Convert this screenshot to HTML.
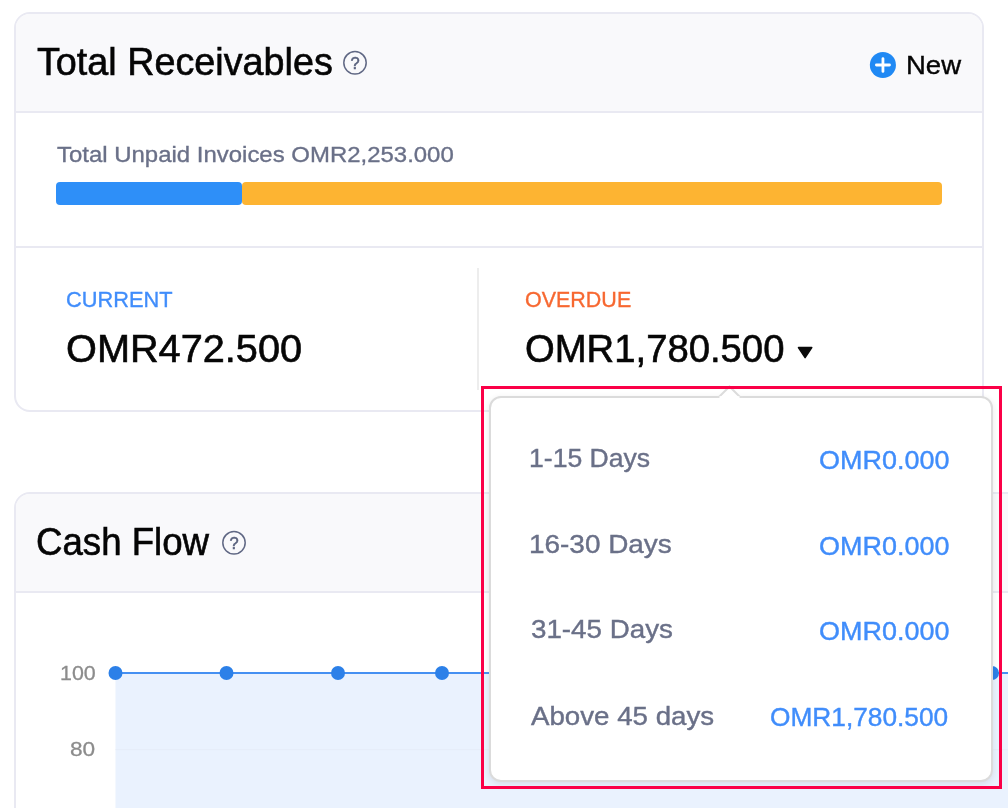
<!DOCTYPE html>
<html>
<head>
<meta charset="utf-8">
<title>Total Receivables</title>
<style>
*{box-sizing:border-box;margin:0;padding:0}
html,body{width:1008px;height:808px;overflow:hidden;background:#fff}
body{position:relative;font-family:"Liberation Sans",Arial,sans-serif;color:#000}
.abs{position:absolute;white-space:nowrap;line-height:1;transform-origin:0 0}
.card{position:absolute;border:2px solid #e9e9f2;border-radius:16px;background:#fff;overflow:hidden}
.head{position:absolute;left:0;top:0;right:0;background:#f9f9fb;border-bottom:2px solid #e9e9f2}
.title{font-size:38px;color:#050505;-webkit-text-stroke:0.6px #050505}
.sub{font-size:22.5px;color:#6a7088;-webkit-text-stroke:0.35px #6a7088}
.lbl{font-size:22.5px;-webkit-text-stroke:0.35px currentColor}
.amt{font-size:38px;color:#060606;-webkit-text-stroke:0.6px #060606}
.row{font-size:26px;color:#6a7088;-webkit-text-stroke:0.4px #6a7088}
.val{font-size:26px;color:#408dfb;-webkit-text-stroke:0.4px #408dfb}
.ytick{font-size:20px;color:#8c8c8c;-webkit-text-stroke:0.3px #8c8c8c}
</style>
</head>
<body>

<!-- Card 1: Total Receivables -->
<div class="card" id="card1" style="left:14px;top:12px;width:970px;height:400px">
  <div class="head" style="height:99px"></div>
  <div style="position:absolute;left:0;right:0;top:232px;height:2px;background:#e9e9f2"></div>
  <div style="position:absolute;left:461px;top:254px;width:2px;height:122px;background:#ededed"></div>
</div>

<div class="abs title" id="t1" style="left:37.0px;top:43px;transform:scaleX(0.9933);">Total Receivables</div>
<svg class="abs" style="left:342px;top:50px" width="26" height="26" viewBox="0 0 26 26">
  <circle cx="13" cy="12.800" r="11.200" fill="none" stroke="#606884" stroke-width="1.5"/>
  <text x="13.100" y="18.700" text-anchor="middle" font-family="Liberation Sans, sans-serif" font-size="16.500" fill="#5a627e" stroke="#5a627e" stroke-width="0.5">?</text>
</svg>

<svg class="abs" style="left:869px;top:51px" width="28" height="28" viewBox="0 0 28 28">
  <circle cx="13.900" cy="14" r="13.050" fill="#2089f4"/>
  <path d="M13.950 7.600v12.800M7.400 14h13.100" stroke="#fff" stroke-width="2.800" stroke-linecap="round" fill="none"/>
</svg>
<div class="abs" id="new" style="left:906.48px;top:52px;transform:scaleX(1.058);font-size:26px;color:#050505;-webkit-text-stroke:0.4px #050505">New</div>

<div class="abs sub" id="sub" style="left:57.0px;top:144px;transform:scaleX(1.0645);">Total Unpaid Invoices OMR2,253.000</div>
<div class="abs" style="left:56px;top:181.5px;width:185.700px;height:23px;background:#2e8ff8;border-radius:4px"></div>
<div class="abs" style="left:242px;top:181.5px;width:700px;height:23px;background:#fdb432;border-radius:4px"></div>

<div class="abs lbl" id="cur" style="left:66.03px;top:289px;transform:scaleX(0.9679);color:#408dfb">CURRENT</div>
<div class="abs amt" id="curamt" style="left:65.96px;top:330px;transform:scaleX(1.0446);">OMR472.500</div>

<div class="abs lbl" id="ovd" style="left:525.05px;top:289px;transform:scaleX(0.9545);color:#f76831">OVERDUE</div>
<div class="abs amt" id="ovdamt" style="left:524.99px;top:330px;transform:scaleX(1.0066);">OMR1,780.500</div>
<svg class="abs" style="left:797px;top:346px" width="17" height="14" viewBox="0 0 17 14">
  <path d="M1.450 1.600L14.750 1.600L8.100 11.700Z" fill="#0a0a0a" stroke="#0a0a0a" stroke-width="1.500" stroke-linejoin="round"/>
</svg>

<!-- Card 2: Cash Flow -->
<div class="card" id="card2" style="left:14px;top:492px;width:1100px;height:400px">
  <div class="head" style="height:99px"></div>
</div>
<div class="abs title" id="t2" style="left:36.14px;top:523px;transform:scaleX(0.9642);">Cash Flow</div>
<svg class="abs" style="left:221px;top:530px" width="26" height="26" viewBox="0 0 26 26">
  <circle cx="13" cy="12.800" r="11.200" fill="none" stroke="#606884" stroke-width="1.5"/>
  <text x="13.100" y="18.700" text-anchor="middle" font-family="Liberation Sans, sans-serif" font-size="16.500" fill="#5a627e" stroke="#5a627e" stroke-width="0.5">?</text>
</svg>

<div class="abs ytick" id="y100" style="left:59.68px;top:663px;transform:scaleX(1.0703);">100</div>
<div class="abs ytick" id="y80" style="left:70.12px;top:739px;transform:scaleX(1.131);">80</div>
<svg class="abs" style="left:100px;top:660px" width="908" height="148" viewBox="0 0 908 148">
  <rect x="15.500" y="13" width="900" height="140" fill="#eaf2fe"/>
  <line x1="15.500" y1="89.700" x2="908" y2="89.700" stroke="#e5ecf8" stroke-width="1"/>
  <line x1="15.500" y1="13" x2="908" y2="13" stroke="#4590f2" stroke-width="2"/>
  <g fill="#2c80e8">
    <circle cx="15.500" cy="13" r="7"/>
    <circle cx="126.500" cy="13" r="7"/>
    <circle cx="238" cy="13" r="7"/>
    <circle cx="342" cy="13" r="7"/>
    <circle cx="453" cy="13" r="7"/>
    <circle cx="564" cy="13" r="7"/>
    <circle cx="675" cy="13" r="7"/>
    <circle cx="786" cy="13" r="7"/>
    <circle cx="892" cy="13" r="7"/>
  </g>
</svg>

<!-- Popup -->
<div class="abs" id="pop" style="left:489px;top:396px;width:504px;height:386px;background:#fff;border:2px solid #dbdbdb;border-radius:12px;box-shadow:0 2px 7px rgba(0,0,0,.09)"></div>
<svg class="abs" style="left:716px;top:384px" width="28" height="16" viewBox="0 0 28 16">
  <path d="M2 14L13.500 2.500L25 14" fill="#fff" stroke="none"/>
  <path d="M1 13L3 13L13.500 2.500L24 13L27 13" fill="none" stroke="#dcdcdc" stroke-width="2" stroke-linejoin="miter"/>
  <rect x="3.500" y="12.200" width="20" height="3" fill="#fff"/>
</svg>

<div class="abs row" id="r1" style="left:529.36px;top:445px;transform:scaleX(1.0224);">1-15 Days</div>
<div class="abs row" id="r2" style="left:529.25px;top:531px;transform:scaleX(1.0738);">16-30 Days</div>
<div class="abs row" id="r3" style="left:530.83px;top:616px;transform:scaleX(1.0672);">31-45 Days</div>
<div class="abs row" id="r4" style="left:531.4px;top:703px;transform:scaleX(1.0649);">Above 45 days</div>

<div class="abs val" id="v1" style="left:818.56px;top:447px;transform:scaleX(1.0371);">OMR0.000</div>
<div class="abs val" id="v2" style="left:818.56px;top:533px;transform:scaleX(1.0371);">OMR0.000</div>
<div class="abs val" id="v3" style="left:818.56px;top:618px;transform:scaleX(1.0371);">OMR0.000</div>
<div class="abs val" id="v4" style="left:770.39px;top:704px;transform:scaleX(1.0103);">OMR1,780.500</div>

<!-- Red highlight box -->
<div class="abs" style="left:481px;top:386px;width:521px;height:403px;border:3px solid #fb0047"></div>

</body>
</html>
